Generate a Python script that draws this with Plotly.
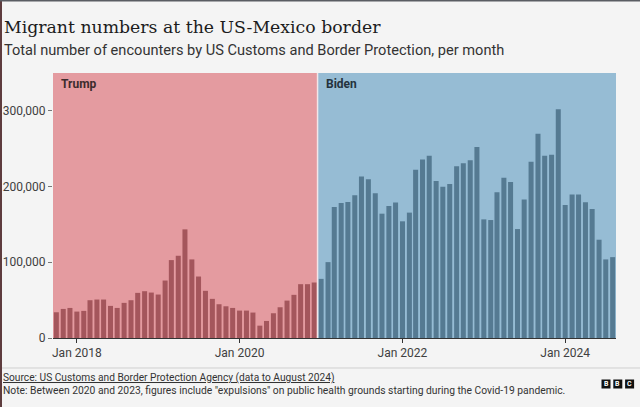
import plotly.graph_objects as go
import pandas as pd

# ---- data ----
trump_months = pd.date_range("2017-10-01", "2020-12-01", freq="MS")
trump_values = [34000, 38400, 39700, 34900, 35800, 49900, 50800, 50800, 42400, 39700,
                46400, 49900, 59600, 61800, 60000, 57400, 75900, 102900, 108600, 143500,
                103800, 81200, 62300, 51700, 44600, 41900, 39700, 36200, 36200, 33600,
                16300, 22500, 32700, 40600, 49400, 57000, 71100, 71100, 73300]
biden_months = pd.date_range("2021-01-01", "2024-08-01", freq="MS")
biden_values = [78100, 100200, 173100, 178400, 179700, 188500, 213200, 209700, 191200, 164200,
                174400, 178800, 154100, 165600, 222100, 235800, 240600, 207500, 199600, 203500,
                226900, 230900, 234900, 252100, 156700, 155800, 192500, 211500, 206200, 143900,
                182800, 232700, 269800, 240600, 241900, 302000, 175700, 189400, 189400, 179200,
                170400, 129800, 103800, 106800]
tick_dates = ["2018-01-01", "2020-01-01", "2022-01-01", "2024-01-01"]
tick_labels = ["Jan 2018", "Jan 2020", "Jan 2022", "Jan 2024"]
y_ticks = [0, 100000, 200000, 300000]
term_names = ["Trump", "Biden"]

# ---- style ----
BG = "#f4f4f4"
TRUMP_BG = "#e49ba0"
TRUMP_BAR = "#a4565c"
BIDEN_BG = "#96bcd4"
BIDEN_BAR = "#557a92"
SANS = "Roboto, 'Noto Sans', sans-serif"
SERIF = "'DejaVu Serif', serif"

X_START, X_END = "2017-09-16", "2024-08-16"
SPLIT = "2020-12-16"
DAY_MS = 86400000
BAR_W = 22.5 * DAY_MS

W, H = 640, 407
L, R, T, B = 53, 24, 73, 69
PW, PH = W - L - R, H - T - B


def px(x):
    return (x - L) / PW


def py(y):
    return (H - B - y) / PH


fig = go.Figure()
fig.add_trace(go.Bar(x=trump_months, y=trump_values, width=[BAR_W] * len(trump_values),
                     marker=dict(color=TRUMP_BAR, line=dict(width=0)), hoverinfo="x+y"))
fig.add_trace(go.Bar(x=biden_months, y=biden_values, width=[BAR_W] * len(biden_values),
                     marker=dict(color=BIDEN_BAR, line=dict(width=0)), hoverinfo="x+y"))

shapes = [
    dict(type="rect", xref="x", yref="paper", x0=X_START, x1=SPLIT, y0=0, y1=1,
         fillcolor=TRUMP_BG, line=dict(width=0), layer="below"),
    dict(type="rect", xref="x", yref="paper", x0=SPLIT, x1=X_END, y0=0, y1=1,
         fillcolor=BIDEN_BG, line=dict(width=0), layer="below"),
    dict(type="line", xref="x", yref="paper", x0=SPLIT, x1=SPLIT, y0=0, y1=1,
         line=dict(color="#f3e6e8", width=1.5), layer="above"),
    # footer separator
    dict(type="line", xref="paper", yref="paper", x0=px(0), x1=px(640), y0=py(368), y1=py(368),
         line=dict(color="#cfcfcf", width=1)),
    # frame edges of the screenshot
    dict(type="rect", xref="paper", yref="paper", x0=px(0), x1=px(2), y0=py(0), y1=py(407),
         fillcolor="#5e3c3e", line=dict(width=0)),
    dict(type="rect", xref="paper", yref="paper", x0=px(0), x1=px(640), y0=py(0), y1=py(1.5),
         fillcolor="#5a5d63", line=dict(width=0)),
]

annotations = [
    dict(text="Migrant numbers at the US-Mexico border", x=px(2), y=py(27), xref="paper", yref="paper",
         xanchor="left", yanchor="middle", showarrow=False, font=dict(family=SERIF, size=17.3, color="#1c1c1c")),
    dict(text="Total number of encounters by US Customs and Border Protection, per month",
         x=px(2), y=py(50.5), xref="paper", yref="paper", xanchor="left", yanchor="middle",
         showarrow=False, font=dict(family=SANS, size=14.6, color="#333333")),
    dict(text="<u>Source: US Customs and Border Protection Agency (data to August 2024)</u>",
         x=px(2), y=py(377.6), xref="paper", yref="paper", xanchor="left", yanchor="middle",
         showarrow=False, borderpad=0, font=dict(family=SANS, size=10.2, color="#333333")),
    dict(text="Note: Between 2020 and 2023, figures include \"expulsions\" on public health grounds starting during the Covid-19 pandemic.",
         x=px(2), y=py(390.2), xref="paper", yref="paper", xanchor="left", yanchor="middle",
         showarrow=False, borderpad=0, font=dict(family=SANS, size=10.3, color="#333333")),
    dict(text="<b>%s</b>" % term_names[0], x=px(59), y=py(83.5), xref="paper", yref="paper",
         xanchor="left", yanchor="middle", showarrow=False, font=dict(family=SANS, size=12, color="#3d2b2d")),
    dict(text="<b>%s</b>" % term_names[1], x=px(323.5), y=py(83.5), xref="paper", yref="paper",
         xanchor="left", yanchor="middle", showarrow=False, font=dict(family=SANS, size=12, color="#24323d")),
]

# BBC logo
for i, letter in enumerate("BBC"):
    x0 = 601.5 + i * 11.8
    shapes.append(dict(type="rect", xref="paper", yref="paper", x0=px(x0), x1=px(x0 + 9),
                       y0=py(388.5), y1=py(379.5), fillcolor="#111111", line=dict(width=0)))
    annotations.append(dict(text="<b>%s</b>" % letter, x=px(x0 + 4.5), y=py(384), xref="paper", yref="paper",
                            xanchor="center", yanchor="middle", showarrow=False, borderpad=0,
                            font=dict(family=SANS, size=7, color="#ffffff")))

fig.update_layout(
    width=W, height=H,
    margin=dict(l=L, r=R, t=T, b=B, pad=0, autoexpand=False),
    paper_bgcolor=BG, plot_bgcolor="rgba(0,0,0,0)",
    showlegend=False, barmode="overlay",
    shapes=shapes, annotations=annotations,
    xaxis=dict(type="date", range=[X_START, X_END], tickvals=tick_dates, ticktext=tick_labels,
               showgrid=False, zeroline=False, showline=True, linecolor="#333333", linewidth=1,
               ticks="outside", ticklen=4, tickcolor="#333333", automargin=False,
               tickfont=dict(family=SANS, size=12, color="#404040"), fixedrange=True),
    yaxis=dict(range=[0, 350000], tickvals=y_ticks, tickformat=",", showgrid=False, zeroline=False,
               showline=False, ticks="outside", ticklen=4, tickcolor="#777777", automargin=False,
               tickfont=dict(family=SANS, size=12, color="#404040"), fixedrange=True),
)

fig.write_html("out.html")
